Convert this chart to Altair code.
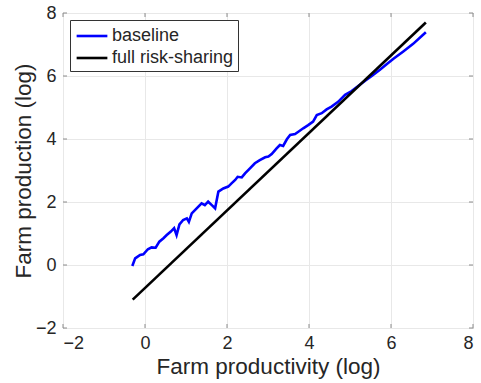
import altair as alt
import pandas as pd

# Baseline economy: farm production against farm productivity (both in logs)
base_x = [-0.31, -0.24, -0.12, -0.04, 0.07, 0.16, 0.26, 0.35, 0.45, 0.53, 0.63, 0.71,
          0.77, 0.84, 0.93, 1.02, 1.07, 1.14, 1.26, 1.38, 1.46, 1.54, 1.63, 1.71, 1.79,
          1.91, 2.03, 2.11, 2.20, 2.26, 2.36, 2.44, 2.56, 2.68, 2.80, 2.93, 3.01, 3.09,
          3.21, 3.29, 3.37, 3.46, 3.54, 3.66, 3.74, 3.86, 3.98, 4.10, 4.19, 4.31, 4.43,
          4.55, 4.71, 4.88, 5.04, 5.20, 5.37, 5.53, 5.73, 5.90, 6.06, 6.30, 6.54, 6.85]
base_y = [-0.03, 0.21, 0.32, 0.34, 0.50, 0.56, 0.55, 0.74, 0.85, 0.95, 1.06, 1.17,
          0.95, 1.29, 1.43, 1.48, 1.37, 1.64, 1.80, 1.96, 1.90, 2.01, 1.90, 1.80, 2.33,
          2.43, 2.49, 2.59, 2.70, 2.80, 2.78, 2.91, 3.07, 3.23, 3.33, 3.42, 3.44, 3.52,
          3.70, 3.81, 3.78, 3.99, 4.13, 4.16, 4.23, 4.34, 4.44, 4.55, 4.76, 4.82, 4.94,
          5.03, 5.18, 5.40, 5.52, 5.68, 5.85, 6.00, 6.20, 6.38, 6.55, 6.78, 7.02, 7.39]

# Full risk-sharing benchmark (a straight line in logs)
full_x = [-0.30, 6.85]
full_y = [-1.10, 7.70]

series_names = ["baseline", "full risk-sharing"]
series_colors = ["#0000ff", "#000000"]
axis_ticks = [-2, 0, 2, 4, 6, 8]

rows = []
for i, (x, y) in enumerate(zip(base_x, base_y)):
    rows.append({"x": x, "y": y, "series": series_names[0], "order": i})
for i, (x, y) in enumerate(zip(full_x, full_y)):
    rows.append({"x": x, "y": y, "series": series_names[1], "order": i})
df = pd.DataFrame(rows)
ticks_df = pd.DataFrame({"t": axis_ticks})

font = "Liberation Sans"
text_color = "#262626"
frame_color = "#8c8c8c"
W, H = 410, 315
TICK = 4

x_scale = alt.Scale(domain=[-2, 8], nice=False, zero=False)
y_scale = alt.Scale(domain=[-2, 8], nice=False, zero=False)

axis_common = dict(
    values=axis_ticks,
    grid=True,
    gridColor="#e8e8e8",
    gridWidth=1,
    domain=False,
    ticks=False,
    labelFont=font,
    labelFontSize=18,
    labelColor=text_color,
    titleFont=font,
    titleFontSize=22.5,
    titleFontWeight="normal",
    titleColor=text_color,
)

lines = alt.Chart(df).mark_line(strokeWidth=2.6).encode(
    x=alt.X(
        "x:Q",
        scale=x_scale,
        axis=alt.Axis(title="Farm productivity (log)", labelPadding=6, titlePadding=3, **axis_common),
    ),
    y=alt.Y(
        "y:Q",
        scale=y_scale,
        axis=alt.Axis(title="Farm production (log)", labelPadding=7, titlePadding=0, **axis_common),
    ),
    color=alt.Color(
        "series:N",
        scale=alt.Scale(domain=series_names, range=series_colors),
        legend=alt.Legend(
            title=None,
            orient="none",
            legendX=7,
            legendY=7,
            # a short horizontal stroke, a bit wider than the default symbol box
            symbolType="M-1.5,0H1.5",
            symbolStrokeWidth=2.6,
            symbolSize=420,
            symbolOffset=6,
            labelFont=font,
            labelFontSize=18,
            labelColor=text_color,
            labelOffset=8,
            rowPadding=1,
            padding=4,
            strokeColor="#333333",
            fillColor="white",
        ),
    ),
    order="order:Q",
)

# Inward tick marks on all four sides of the box
tick_style = dict(color=frame_color, strokeWidth=1)
x_ticks_bottom = alt.Chart(ticks_df).mark_rule(**tick_style).encode(
    x=alt.X("t:Q", scale=x_scale), y=alt.value(H), y2=alt.value(H - TICK))
x_ticks_top = alt.Chart(ticks_df).mark_rule(**tick_style).encode(
    x=alt.X("t:Q", scale=x_scale), y=alt.value(0), y2=alt.value(TICK))
y_ticks_left = alt.Chart(ticks_df).mark_rule(**tick_style).encode(
    y=alt.Y("t:Q", scale=y_scale), x=alt.value(0), x2=alt.value(TICK))
y_ticks_right = alt.Chart(ticks_df).mark_rule(**tick_style).encode(
    y=alt.Y("t:Q", scale=y_scale), x=alt.value(W), x2=alt.value(W - TICK))

chart = alt.layer(
    lines, x_ticks_bottom, x_ticks_top, y_ticks_left, y_ticks_right
).properties(
    width=W,
    height=H,
    padding={"left": 63, "top": 13, "right": 8, "bottom": 55},
    autosize=alt.AutoSizeParams(type="none"),
).configure_view(
    stroke=frame_color,
    strokeWidth=1,
)

chart.save("out.html", embed_options={"renderer": "svg", "actions": False})
